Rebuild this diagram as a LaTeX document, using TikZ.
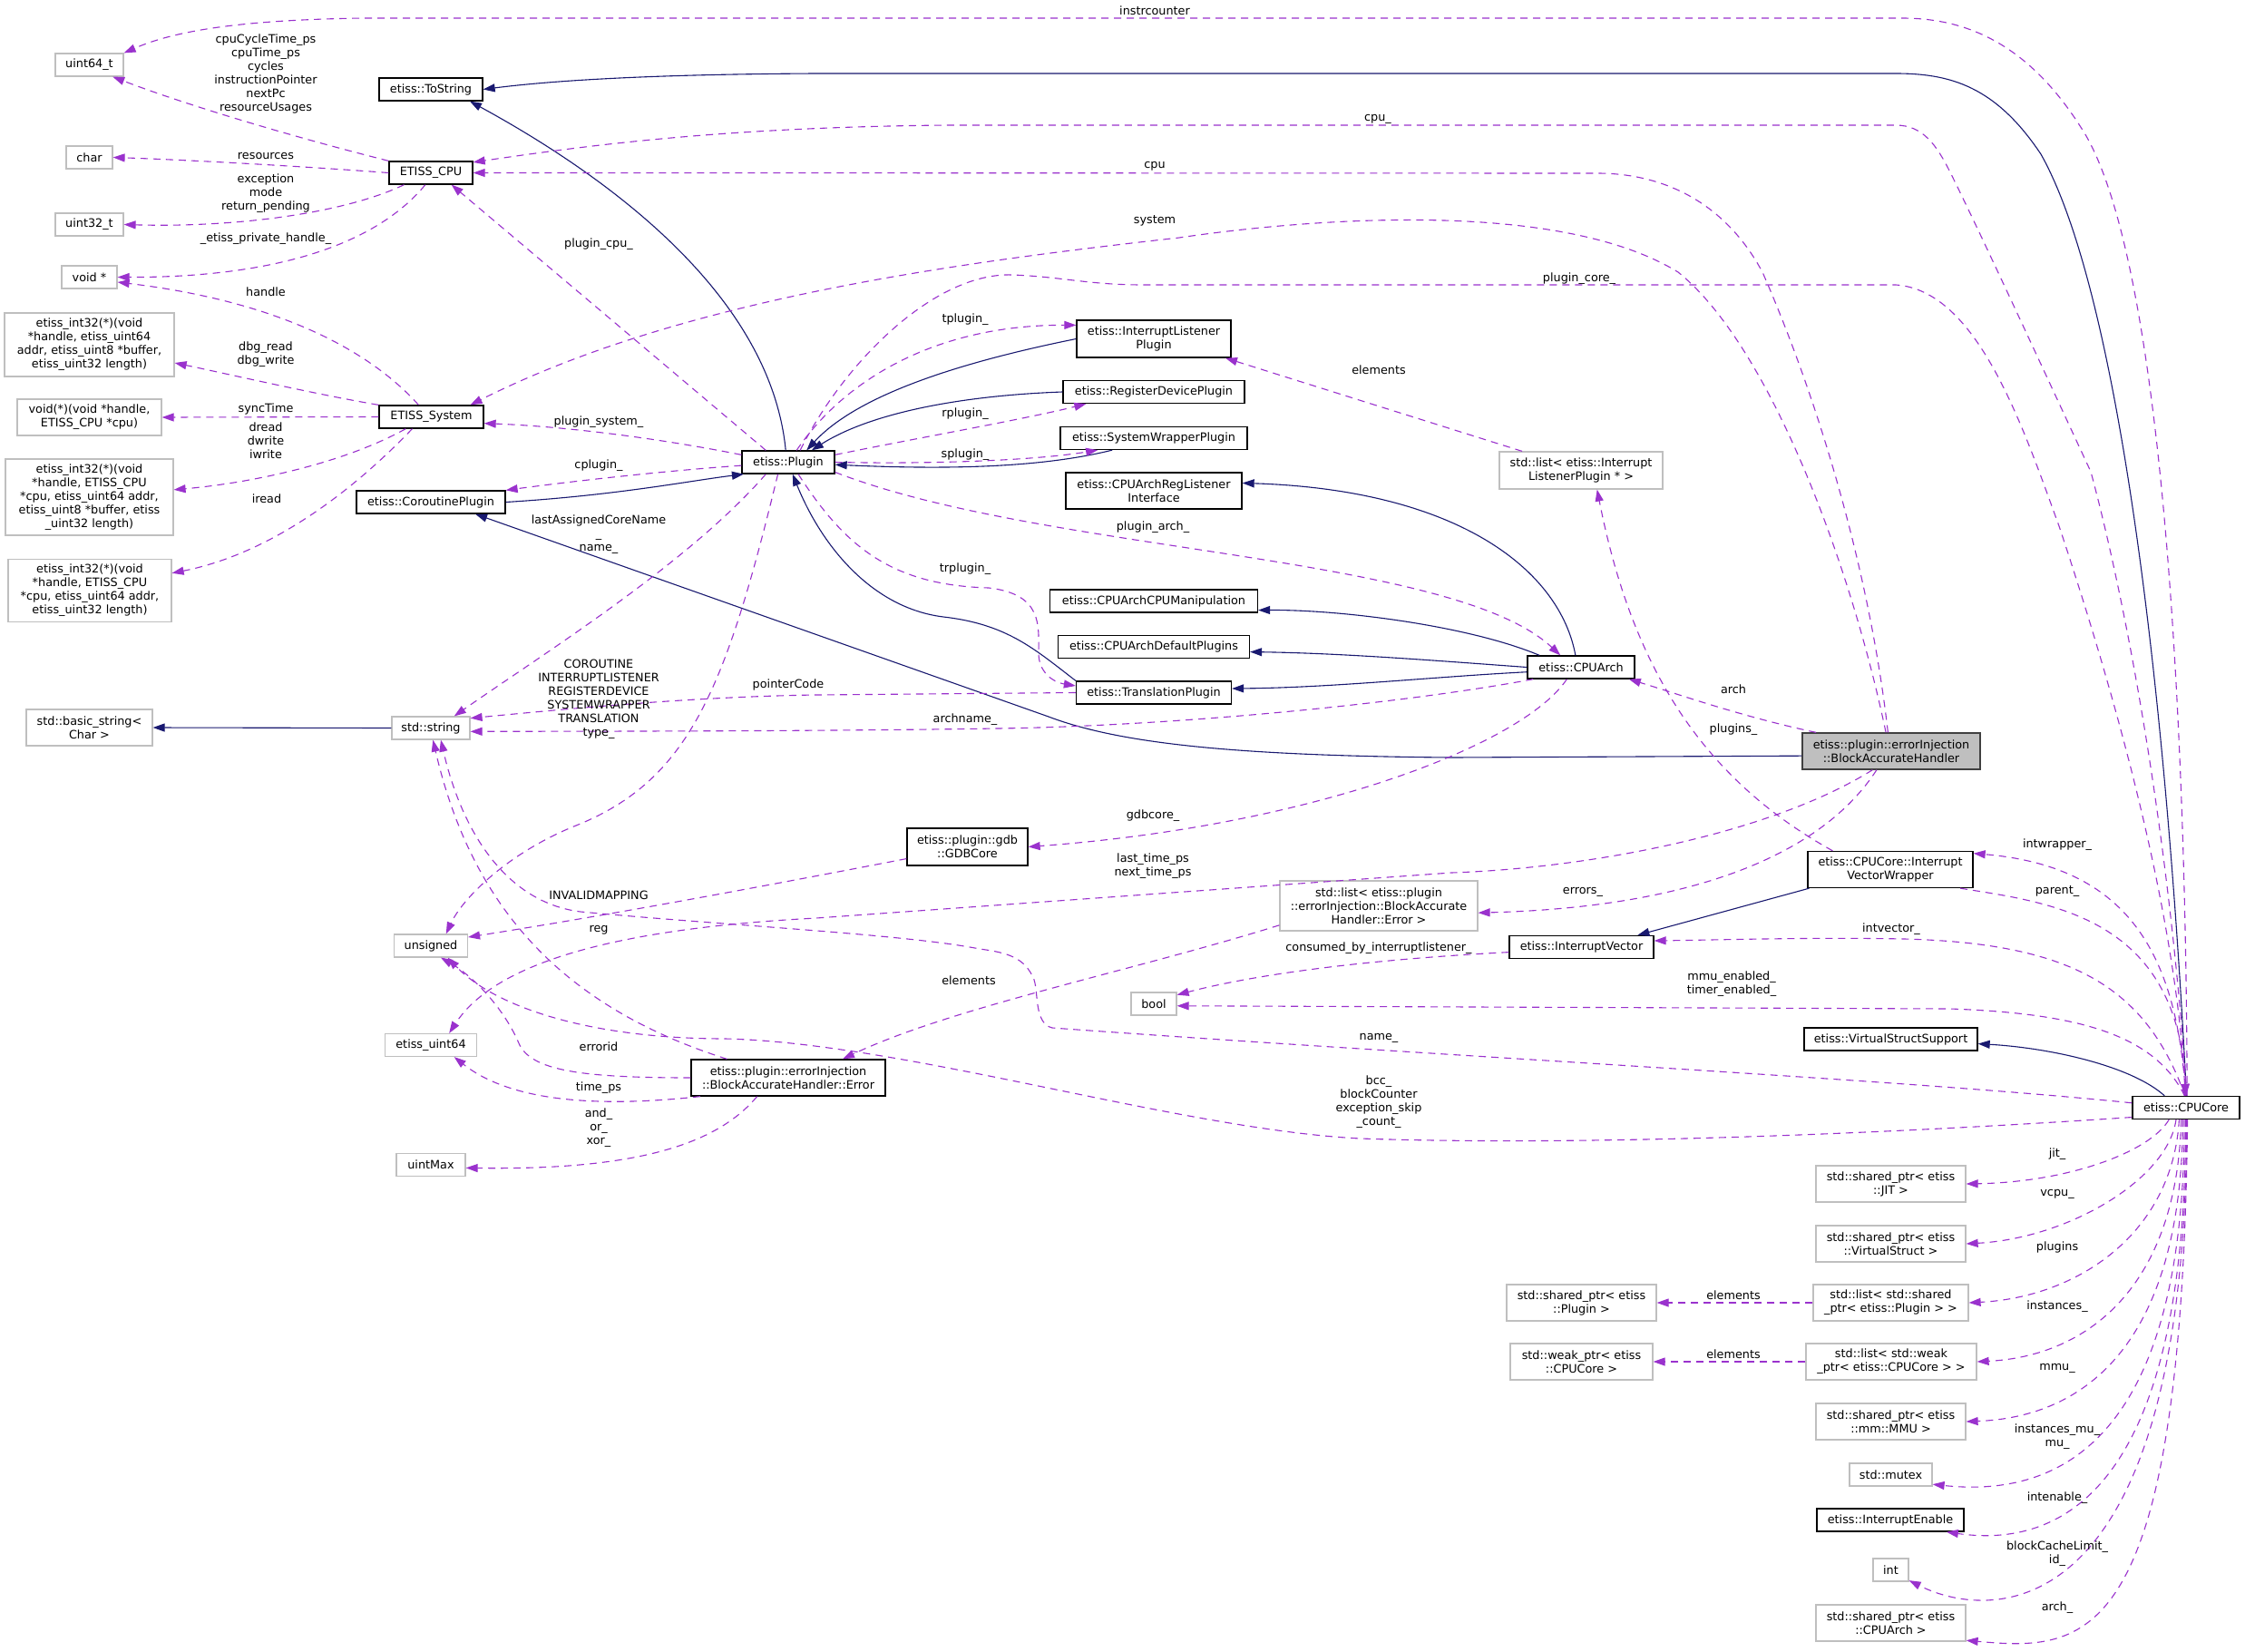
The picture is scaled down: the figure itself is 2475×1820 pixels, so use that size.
\documentclass[tikz,border=0pt]{standalone}
\usepackage{fontspec}
\setmainfont{DejaVu Sans}
\usepackage{tikz}
\usetikzlibrary{arrows.meta}

\definecolor{inhcolor}{RGB}{25,25,112}
\definecolor{usecolor}{RGB}{154,50,205}
\definecolor{typegray}{RGB}{191,191,191}
\definecolor{mainfill}{RGB}{191,191,191}
\definecolor{mainline}{RGB}{64,64,64}

\newcommand{\dgfont}{\fontsize{12.8pt}{15pt}\selectfont}

\tikzstyle{classbox} = [rectangle, draw=black, line width=1.3pt, fill=white,
                        inner sep=0pt, minimum height=25pt, align=center, font=\dgfont]
\tikzstyle{typebox}  = [rectangle, draw=typegray, line width=1.2pt, fill=white,
                        inner sep=0pt, minimum height=25pt, align=center, font=\dgfont]
\tikzstyle{mainbox}  = [rectangle, draw=mainline, line width=1.3pt, fill=mainfill,
                        inner sep=0pt, minimum height=40pt, align=center, font=\dgfont]
\tikzstyle{memberlabel} = [inner sep=0pt, align=center, font=\dgfont]
\tikzstyle{inherits} = [color=inhcolor, line width=1.1pt, -{Triangle[length=13pt,width=9pt]}]
\tikzstyle{usage}    = [color=usecolor, line width=1.1pt, dash pattern=on 8pt off 6pt,
                        -{Triangle[length=13pt,width=9pt]}]

\begin{document}
\begin{tikzpicture}[x=1pt, y=-1pt]

    \fill[white] (0,0) rectangle (2475,1820);
    \useasboundingbox (0,0) rectangle (2475,1820);

    % ── Plain types, left column ────────────────────────────────────────────
    \node[typebox, minimum width=75pt]  (u64)   at (98.5,71.5)  {uint64\_t};
    \node[typebox, minimum width=51pt]  (chr)   at (98.5,173.5) {char};
    \node[typebox, minimum width=75pt]  (u32)   at (98.5,247.5) {uint32\_t};
    \node[typebox, minimum width=61pt]  (vptr)  at (98.5,305.5) {void *};
    \node[typebox, minimum width=187pt, minimum height=70pt] (fdbg) at (98.5,380)
        {etiss\_int32(*)(void\\{}*handle, etiss\_uint64\\ addr, etiss\_uint8 *buffer,\\ etiss\_uint32 length)};
    \node[typebox, minimum width=159pt, minimum height=40pt] (fsync) at (98.5,460)
        {void(*)(void *handle,\\ ETISS\_CPU *cpu)};
    \node[typebox, minimum width=185pt, minimum height=84pt] (frw) at (98.5,548)
        {etiss\_int32(*)(void\\{}*handle, ETISS\_CPU\\{}*cpu, etiss\_uint64 addr,\\ etiss\_uint8 *buffer, etiss\\ \_uint32 length)};
    \node[typebox, minimum width=180pt, minimum height=69pt] (fird) at (99,651)
        {etiss\_int32(*)(void\\{}*handle, ETISS\_CPU\\{}*cpu, etiss\_uint64 addr,\\ etiss\_uint32 length)};
    \node[typebox, minimum width=139pt, minimum height=40pt] (bstr) at (98.5,802)
        {std::basic\_string<\\ Char >};

    % ── Second column ───────────────────────────────────────────────────────
    \node[classbox, minimum width=114pt] (tostr) at (475,98.5)   {etiss::ToString};
    \node[classbox, minimum width=92pt]  (ecpu)  at (475,190.5)  {ETISS\_CPU};
    \node[classbox, minimum width=115pt] (esys)  at (475.5,459.5){ETISS\_System};
    \node[classbox, minimum width=164pt] (corp)  at (475,553.5)  {etiss::CoroutinePlugin};
    \node[typebox,  minimum width=86pt]  (str)   at (475,802.5)  {std::string};
    \node[typebox,  minimum width=81pt]  (uns)   at (475,1042.5) {unsigned};
    \node[typebox,  minimum width=101pt] (eu64)  at (475,1152)   {etiss\_uint64};
    \node[typebox,  minimum width=76pt]  (umax)  at (475,1284)   {uintMax};

    % ── Plugin column ───────────────────────────────────────────────────────
    \node[classbox, minimum width=102pt] (plug) at (869,509.5) {etiss::Plugin};
    \node[classbox, minimum width=214pt, minimum height=40pt] (err) at (869,1188)
        {etiss::plugin::errorInjection\\ ::BlockAccurateHandler::Error};
    \node[classbox, minimum width=133pt, minimum height=41pt] (gdb) at (1066.5,933.5)
        {etiss::plugin::gdb\\ ::GDBCore};

    % ── Plugin kinds and CPUArch bases ──────────────────────────────────────
    \node[classbox, minimum width=170pt, minimum height=41pt] (ilp) at (1272,373.5)
        {etiss::InterruptListener\\ Plugin};
    \node[classbox, minimum width=200pt] (rdp)  at (1272,432)   {etiss::RegisterDevicePlugin};
    \node[classbox, minimum width=206pt] (swp)  at (1272,483)   {etiss::SystemWrapperPlugin};
    \node[classbox, minimum width=194pt, minimum height=40pt] (crl) at (1272,541)
        {etiss::CPUArchRegListener\\ Interface};
    \node[classbox, minimum width=229pt] (cman) at (1272,662.5) {etiss::CPUArchCPUManipulation};
    \node[classbox, minimum width=211pt] (cdef) at (1272,713)   {etiss::CPUArchDefaultPlugins};
    \node[classbox, minimum width=171pt] (trp)  at (1272,763.5) {etiss::TranslationPlugin};
    \node[typebox,  minimum width=50pt]  (bool) at (1272,1106.5){bool};

    \node[typebox, minimum width=218pt, minimum height=55pt] (lerr) at (1520,998.5)
        {std::list< etiss::plugin\\ ::errorInjection::BlockAccurate\\ Handler::Error >};

    \node[typebox, minimum width=180pt, minimum height=41pt] (lilp) at (1743,518.5)
        {std::list< etiss::Interrupt\\ ListenerPlugin * >};
    \node[classbox, minimum width=118pt] (arch) at (1743,735.5)  {etiss::CPUArch};
    \node[classbox, minimum width=159pt] (ivec) at (1743.5,1044) {etiss::InterruptVector};
    \node[typebox, minimum width=165pt, minimum height=40pt] (sppl) at (1743.5,1436)
        {std::shared\_ptr< etiss\\ ::Plugin >};
    \node[typebox, minimum width=157pt, minimum height=40pt] (wpc) at (1743.5,1501)
        {std::weak\_ptr< etiss\\ ::CPUCore >};

    % ── Handler and CPUCore members ─────────────────────────────────────────
    \node[mainbox, minimum width=196pt] (bah) at (2085,828)
        {etiss::plugin::errorInjection\\ ::BlockAccurateHandler};
    \node[classbox, minimum width=182pt, minimum height=40pt] (ivw) at (2084,958.5)
        {etiss::CPUCore::Interrupt\\ VectorWrapper};
    \node[classbox, minimum width=191pt] (vss) at (2084.5,1145.5) {etiss::VirtualStructSupport};
    \node[typebox, minimum width=165pt, minimum height=40pt] (spjit) at (2084.5,1305)
        {std::shared\_ptr< etiss\\ ::JIT >};
    \node[typebox, minimum width=165pt, minimum height=40pt] (spvs) at (2084.5,1371)
        {std::shared\_ptr< etiss\\ ::VirtualStruct >};
    \node[typebox, minimum width=171pt, minimum height=40pt] (lspl) at (2084.5,1436)
        {std::list< std::shared\\ \_ptr< etiss::Plugin > >};
    \node[typebox, minimum width=188pt, minimum height=40pt] (lwpc) at (2085,1501)
        {std::list< std::weak\\ \_ptr< etiss::CPUCore > >};
    \node[typebox, minimum width=165pt, minimum height=40pt] (spmmu) at (2084.5,1567)
        {std::shared\_ptr< etiss\\ ::mm::MMU >};
    \node[typebox,  minimum width=91pt]  (mtx) at (2084.5,1625.5) {std::mutex};
    \node[classbox, minimum width=162pt] (ien) at (2084,1675.5)   {etiss::InterruptEnable};
    \node[typebox,  minimum width=39pt]  (int) at (2084.5,1730.5) {int};
    \node[typebox, minimum width=165pt, minimum height=40pt] (sparch) at (2084.5,1789)
        {std::shared\_ptr< etiss\\ ::CPUArch >};

    \node[classbox, minimum width=118pt] (core) at (2410,1221) {etiss::CPUCore};

    % ── Inheritance ─────────────────────────────────────────────────────────
    \draw[inherits] (plug.102) .. controls (850,330) and (680,200) .. (tostr.-17);
    \draw[inherits] (core.88) .. controls (2390,800) and (2340,330) .. (2250,170)
        .. controls (2200,95) and (2150,81) .. (2090,81) -- (900,81)
        .. controls (700,82) and (600,90) .. (tostr.east);
    \draw[inherits] (corp.east) .. controls (680,546) and (760,530) .. (plug.-165);
    \draw[inherits] (ilp.west) .. controls (1080,395) and (950,430) .. (plug.33);
    \draw[inherits] (rdp.west) .. controls (1060,436) and (960,455) .. (plug.27);
    \draw[inherits] (swp.-164) .. controls (1150,515) and (1050,518) .. (plug.-3);
    \draw[inherits] (trp.north west) .. controls (1140,715) and (1110,688) .. (1040,680)
        .. controls (960,670) and (905,600) .. (plug.-70);
    \draw[inherits] (bah.-177) -- (1600,835) .. controls (1350,833) and (1230,818) .. (1156,790)
        -- (corp.-15);
    \draw[inherits] (arch.115) .. controls (1720,630) and (1610,540) .. (crl.5);
    \draw[inherits] (arch.164) .. controls (1620,690) and (1480,672) .. (cman.-5);
    \draw[inherits] (arch.west) .. controls (1580,728) and (1480,720) .. (cdef.-3);
    \draw[inherits] (arch.-175) .. controls (1580,746) and (1470,758) .. (trp.3);
    \draw[inherits] (str.west) -- (bstr.east);
    \draw[inherits] (ivw.-167) -- (ivec.12);
    \draw[inherits] (core.151) .. controls (2350,1175) and (2260,1155) .. (vss.-3);

    % ── ETISS_CPU and ETISS_System members ──────────────────────────────────
    \draw[usage] (ecpu.north west) .. controls (300,145) and (190,110) .. (u64.-27);
    \draw[usage] (ecpu.west) .. controls (330,183) and (200,176) .. (chr.east);
    \draw[usage] (ecpu.-156) .. controls (380,235) and (260,251) .. (u32.east);
    \draw[usage] (ecpu.-115) .. controls (410,275) and (290,306) .. (vptr.east);
    \draw[usage] (esys.137) .. controls (420,400) and (330,335) .. (vptr.-10);
    \draw[usage] (esys.north west) .. controls (350,435) and (250,412) .. (fdbg.-12);
    \draw[usage] (esys.west) -- (fsync.east);
    \draw[usage] (esys.-155) .. controls (380,510) and (280,532) .. (frw.5);
    \draw[usage] (esys.-148) .. controls (390,540) and (300,610) .. (fird.12);

    % ── Plugin members ──────────────────────────────────────────────────────
    \draw[usage] (plug.171) .. controls (720,482) and (620,470) .. (esys.-7);
    \draw[usage] (plug.152) -- (ecpu.-30);
    \draw[usage] (plug.-176) .. controls (720,520) and (620,532) .. (corp.north east);
    \draw[usage] (plug.-152) .. controls (760,620) and (600,720) .. (str.27);
    \draw[usage] (plug.-131) .. controls (800,760) and (760,860) .. (635,910)
        .. controls (560,940) and (510,990) .. (uns.38);
    \draw[usage] (plug.55) .. controls (930,420) and (1030,358) .. (ilp.170);
    \draw[usage] (plug.9) .. controls (1000,485) and (1130,462) .. (rdp.-170);
    \draw[usage] (plug.east) .. controls (1050,512) and (1150,506) .. (swp.-168);
    \draw[usage] (plug.-12) .. controls (1150,610) and (1600,610) .. (arch.150);
    \draw[usage] (plug.-50) .. controls (930,600) and (980,645) .. (1090,648)
        .. controls (1150,655) and (1145,690) .. (1145,720)
        .. controls (1145,740) and (1160,752) .. (trp.175);
    \draw[usage] (plug.45) .. controls (930,400) and (1030,300) .. (1116,303)
        .. controls (1170,305) and (1200,314) .. (1260,314) -- (2090,314)
        .. controls (2180,320) and (2230,470) .. (2270,580)
        .. controls (2330,760) and (2398,1000) .. (core.93);

    % ── Other members ───────────────────────────────────────────────────────
    \draw[usage] (trp.west) -- (900,766) .. controls (760,768) and (620,782) .. (str.14);
    \draw[usage] (arch.-166) .. controls (1550,775) and (1300,800) .. (1100,803)
        .. controls (900,806) and (700,806) .. (str.-5);
    \draw[usage] (arch.-140) .. controls (1680,820) and (1450,910) .. (gdb.east);
    \draw[usage] (gdb.-169) .. controls (800,985) and (650,1012) .. (uns.13);
    \draw[usage] (lerr.-169) .. controls (1250,1070) and (1050,1110) .. (err.19);
    \draw[usage] (lilp.162) -- (ilp.-15);
    \draw[usage] (ivw.162) .. controls (1880,860) and (1800,740) .. (lilp.-50);
    \draw[usage] (ivw.-15) .. controls (2260,995) and (2400,1010) .. (core.90);
    \draw[usage] (ivec.-176) .. controls (1500,1058) and (1380,1075) .. (bool.21);

    % ── Handler members ─────────────────────────────────────────────────────
    \draw[usage] (bah.166) .. controls (1920,790) and (1850,765) .. (arch.-14);
    \draw[usage] (bah.-128) .. controls (2010,940) and (1870,1000) .. (lerr.-4);
    \draw[usage] (bah.-135) .. controls (1950,920) and (1750,957) .. (1600,962) -- (900,1012)
        .. controls (650,1025) and (540,1070) .. (eu64.33);
    \draw[usage] (bah.100) .. controls (2060,620) and (2000,430) .. (1943,300)
        .. controls (1900,220) and (1830,191) .. (1761,191) -- (ecpu.east);
    \draw[usage] (bah.106) .. controls (2040,620) and (1950,380) .. (1850,300)
        .. controls (1720,220) and (1450,240) .. (1300,262)
        .. controls (1050,290) and (750,330) .. (esys.17);

    % ── Error members ───────────────────────────────────────────────────────
    \draw[usage] (err.163) .. controls (620,1110) and (520,1000) .. (str.-80);
    \draw[usage] (err.west) .. controls (640,1188) and (585,1180) .. (572,1150)
        .. controls (555,1110) and (520,1075) .. (uns.-50);
    \draw[usage] (err.-168) .. controls (650,1222) and (560,1212) .. (eu64.-27);
    \draw[usage] (err.-149) .. controls (790,1262) and (700,1290) .. (umax.-5);

    % ── CPUCore members ─────────────────────────────────────────────────────
    \draw[usage] (core.85) .. controls (2410,800) and (2385,300) .. (2300,150)
        .. controls (2240,50) and (2170,20) .. (2097,20) -- (400,20)
        .. controls (260,22) and (190,35) .. (u64.north east);
    \draw[usage] (core.86) .. controls (2390,900) and (2340,650) .. (2305,520)
        .. controls (2240,380) and (2180,250) .. (2150,190)
        .. controls (2135,160) and (2120,138) .. (2090,138) -- (1046,138)
        .. controls (800,140) and (650,160) .. (ecpu.14);
    \draw[usage] (core.175) .. controls (2100,1190) and (1600,1165) .. (1160,1133)
        .. controls (1140,1128) and (1145,1095) .. (1140,1080)
        .. controls (1130,1055) and (1110,1050) .. (1080,1046)
        .. controls (1000,1030) and (800,1020) .. (640,1005)
        .. controls (560,995) and (510,920) .. (str.-50);
    \draw[usage] (core.-170) .. controls (2000,1255) and (1700,1262) .. (1500,1255)
        .. controls (1300,1245) and (1000,1150) .. (800,1145)
        .. controls (650,1145) and (545,1110) .. (uns.-35);
    \draw[usage] (core.97) .. controls (2375,1140) and (2290,1117) .. (2150,1112) -- (bool.-5);
    \draw[usage] (core.95) .. controls (2365,1085) and (2280,1040) .. (2100,1035)
        .. controls (2000,1033) and (1900,1036) .. (ivec.5);
    \draw[usage] (core.92) .. controls (2400,1050) and (2345,955) .. (ivw.11);
    \draw[usage] (core.-145) .. controls (2370,1270) and (2280,1303) .. (spjit.east);
    \draw[usage] (core.-130) .. controls (2390,1300) and (2280,1365) .. (spvs.east);
    \draw[usage] (core.-120) .. controls (2395,1360) and (2290,1430) .. (lspl.east);
    \draw[usage] (core.-112) .. controls (2400,1420) and (2300,1495) .. (lwpc.east);
    \draw[usage] (core.-105) .. controls (2405,1480) and (2300,1562) .. (spmmu.east);
    \draw[usage] (core.-98) .. controls (2408,1600) and (2260,1650) .. (mtx.-13);
    \draw[usage] (core.-92) .. controls (2410,1660) and (2260,1705) .. (ien.-12);
    \draw[usage] (core.-87) .. controls (2410,1790) and (2200,1790) .. (int.-30);
    \draw[usage] (core.-83) .. controls (2405,1820) and (2300,1820) .. (sparch.-13);
    \draw[usage] (lspl.west) -- (sppl.east);
    \draw[usage] (lwpc.west) -- (wpc.east);

    % ── Member labels ───────────────────────────────────────────────────────
    \node[memberlabel] (l-instr)  at (1273,12)  {instrcounter};
    \node[memberlabel] (l-cpuu)   at (1519,131) {cpu\_};
    \node[memberlabel] (l-cpu)    at (1273,183) {cpu};
    \node[memberlabel] (l-system) at (1273,243) {system};
    \node[memberlabel] (l-pcore)  at (1741,307) {plugin\_core\_};
    \node[memberlabel] (l-times)  at (293,81.5)
        {cpuCycleTime\_ps\\cpuTime\_ps\\cycles\\instructionPointer\\nextPc\\resourceUsages};
    \node[memberlabel] (l-res)    at (293,172) {resources};
    \node[memberlabel] (l-exc)    at (293,213) {exception\\mode\\return\_pending};
    \node[memberlabel] (l-priv)   at (293,263) {\_etiss\_private\_handle\_};
    \node[memberlabel] (l-handle) at (293,322) {handle};
    \node[memberlabel] (l-dbg)    at (293,391) {dbg\_read\\dbg\_write};
    \node[memberlabel] (l-sync)   at (293,451) {syncTime};
    \node[memberlabel] (l-drw)    at (293,486) {dread\\dwrite\\iwrite};
    \node[memberlabel] (l-iread)  at (294,550) {iread};
    \node[memberlabel] (l-pcpu)   at (660,269) {plugin\_cpu\_};
    \node[memberlabel] (l-psys)   at (660,465) {plugin\_system\_};
    \node[memberlabel] (l-cplug)  at (660,513) {cplugin\_};
    \node[memberlabel] (l-name)   at (660,589) {lastAssignedCoreName\\\_\\name\_};
    \node[memberlabel] (l-type)   at (660,771)
        {COROUTINE\\INTERRUPTLISTENER\\REGISTERDEVICE\\SYSTEMWRAPPER\\TRANSLATION\\type\_};
    \node[memberlabel] (l-ptr)    at (869,755) {pointerCode};
    \node[memberlabel] (l-inval)  at (660,987) {INVALIDMAPPING};
    \node[memberlabel] (l-reg)    at (660,1025) {reg};
    \node[memberlabel] (l-errid)  at (660,1154) {errorid};
    \node[memberlabel] (l-timeps) at (660,1199) {time\_ps};
    \node[memberlabel] (l-ops)    at (660,1243) {and\_\\or\_\\xor\_};
    \node[memberlabel] (l-tplug)  at (1064,352) {tplugin\_};
    \node[memberlabel] (l-rplug)  at (1064,456) {rplugin\_};
    \node[memberlabel] (l-splug)  at (1064,501) {splugin\_};
    \node[memberlabel] (l-trplug) at (1064,627) {trplugin\_};
    \node[memberlabel] (l-archn)  at (1064,793) {archname\_};
    \node[memberlabel] (l-elerr)  at (1068,1081) {elements};
    \node[memberlabel] (l-parch)  at (1271,581) {plugin\_arch\_};
    \node[memberlabel] (l-gdb)    at (1271,899) {gdbcore\_};
    \node[memberlabel] (l-last)   at (1271,955) {last\_time\_ps\\next\_time\_ps};
    \node[memberlabel] (l-elilp)  at (1520,408) {elements};
    \node[memberlabel] (l-consum) at (1520,1045) {consumed\_by\_interruptlistener\_};
    \node[memberlabel] (l-cname)  at (1520,1144) {name\_};
    \node[memberlabel] (l-bcc)    at (1520,1215) {bcc\_\\blockCounter\\exception\_skip\\\_count\_};
    \node[memberlabel] (l-errors) at (1745,983) {errors\_};
    \node[memberlabel] (l-arch)   at (1911,760) {arch};
    \node[memberlabel] (l-plugs)  at (1911,804) {plugins\_};
    \node[memberlabel] (l-mmuen)  at (1909,1085) {mmu\_enabled\_\\timer\_enabled\_};
    \node[memberlabel] (l-intvec) at (2085,1024) {intvector\_};
    \node[memberlabel] (l-elpl)   at (1911,1428) {elements};
    \node[memberlabel] (l-elwp)   at (1911,1493) {elements};
    \node[memberlabel] (l-intw)   at (2268,931) {intwrapper\_};
    \node[memberlabel] (l-parent) at (2268,983) {parent\_};
    \node[memberlabel] (l-jit)    at (2268,1272) {jit\_};
    \node[memberlabel] (l-vcpu)   at (2268,1316) {vcpu\_};
    \node[memberlabel] (l-plugins) at (2268,1375) {plugins};
    \node[memberlabel] (l-inst)   at (2268,1440) {instances\_};
    \node[memberlabel] (l-mmu)    at (2268,1508) {mmu\_};
    \node[memberlabel] (l-mu)     at (2268,1584) {instances\_mu\_\\mu\_};
    \node[memberlabel] (l-inten)  at (2268,1651) {intenable\_};
    \node[memberlabel] (l-bcl)    at (2268,1713) {blockCacheLimit\_\\id\_};
    \node[memberlabel] (l-archu)  at (2268,1772) {arch\_};

\end{tikzpicture}
\end{document}
